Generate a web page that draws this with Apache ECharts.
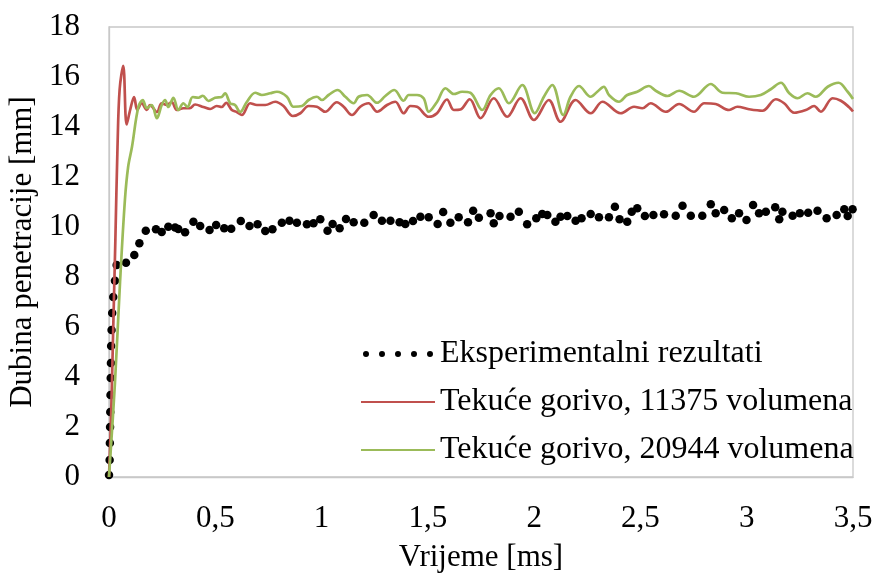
<!DOCTYPE html>
<html>
<head>
<meta charset="utf-8">
<script src="https://cdn.jsdelivr.net/npm/echarts@6/dist/echarts.min.js"></script>
<style>
html,body{margin:0;padding:0;background:#fff;}
#chart{width:875px;height:573px;}
</style>
</head>
<body>
<div id="chart"></div>
<script>
// ---- data ----
const seriesNames = ['Eksperimentalni rezultati', 'Tekuće gorivo, 11375 volumena', 'Tekuće gorivo, 20944 volumena'];
const xTickLabels = ['0', '0,5', '1', '1,5', '2', '2,5', '3', '3,5'];
const yTickLabels = ['0', '2', '4', '6', '8', '10', '12', '14', '16', '18'];

const expTime = [0,0.003,0.004,0.005,0.006,0.007,0.008,0.009,0.01,0.012,0.015,0.02,0.028,0.036,0.08,0.119,0.143,0.173,0.221,0.248,0.279,0.311,0.326,0.358,0.397,0.429,0.473,0.504,0.542,0.575,0.62,0.661,0.699,0.735,0.769,0.813,0.849,0.884,0.931,0.962,0.994,1.028,1.052,1.085,1.115,1.151,1.201,1.245,1.284,1.324,1.367,1.394,1.43,1.465,1.504,1.546,1.572,1.606,1.645,1.689,1.713,1.74,1.795,1.81,1.837,1.889,1.928,1.967,2.01,2.038,2.062,2.1,2.124,2.156,2.195,2.223,2.266,2.305,2.352,2.38,2.402,2.438,2.459,2.485,2.521,2.561,2.611,2.666,2.698,2.737,2.791,2.831,2.854,2.894,2.93,2.964,2.999,3.03,3.058,3.09,3.134,3.153,3.168,3.216,3.25,3.289,3.333,3.376,3.423,3.459,3.475,3.498];
const expDepth = [0.08,0.68,1.36,2.0,2.6,3.28,3.96,4.56,5.24,5.88,6.56,7.2,7.85,8.48,8.57,8.88,9.35,9.85,9.91,9.8,10.01,9.98,9.92,9.79,10.21,10.04,9.88,10.08,9.95,9.93,10.24,10.04,10.11,9.84,9.91,10.17,10.25,10.17,10.11,10.15,10.31,9.85,10.12,9.95,10.32,10.19,10.17,10.48,10.25,10.25,10.19,10.12,10.24,10.41,10.39,10.12,10.6,10.17,10.39,10.19,10.65,10.37,10.55,10.15,10.44,10.41,10.61,10.11,10.35,10.52,10.48,10.21,10.41,10.44,10.25,10.35,10.52,10.39,10.39,10.81,10.31,10.21,10.61,10.75,10.44,10.48,10.51,10.45,10.85,10.45,10.45,10.91,10.55,10.68,10.35,10.55,10.28,10.88,10.55,10.61,10.79,10.31,10.61,10.45,10.55,10.57,10.65,10.35,10.48,10.71,10.44,10.71];

const redTime = [0,0.01,0.02,0.03,0.04,0.05,0.067,0.083,0.1,0.118,0.133,0.154,0.178,0.193,0.225,0.248,0.272,0.295,0.319,0.35,0.38,0.405,0.444,0.476,0.507,0.53,0.551,0.578,0.601,0.625,0.664,0.696,0.735,0.782,0.821,0.865,0.9,0.939,0.978,1.017,1.072,1.104,1.143,1.182,1.221,1.261,1.308,1.347,1.386,1.418,1.449,1.504,1.543,1.59,1.622,1.653,1.697,1.748,1.81,1.873,1.936,1.999,2.069,2.124,2.195,2.266,2.321,2.407,2.47,2.509,2.548,2.619,2.682,2.752,2.8,2.854,2.917,2.956,3.011,3.074,3.137,3.176,3.223,3.278,3.317,3.349,3.404,3.443,3.482,3.5];
const redDepth = [0,2.5,6,9.5,13.2,15.5,16.45,14.1,14.7,15.2,14.68,14.95,14.68,14.88,14.6,14.95,14.88,15.0,14.68,14.75,14.75,14.9,14.8,14.72,14.84,14.8,14.97,14.68,14.6,14.48,14.95,14.88,14.88,15.01,14.84,14.44,14.55,14.84,14.81,14.61,14.99,14.81,14.48,14.81,14.95,14.61,14.88,15.01,14.55,14.84,14.81,14.41,14.55,15.1,14.68,14.7,15.11,14.35,15.15,14.41,15.15,14.28,15.08,14.21,15.08,14.55,15.01,14.55,14.81,14.75,14.95,14.61,14.92,14.61,14.95,14.92,14.68,14.81,14.71,14.65,15.11,14.95,14.57,14.68,14.84,14.61,15.15,15.05,14.79,14.62];

const greenTime = [0,0.028,0.052,0.075,0.09,0.108,0.138,0.159,0.178,0.201,0.225,0.248,0.264,0.279,0.303,0.326,0.35,0.369,0.394,0.421,0.441,0.468,0.499,0.53,0.546,0.57,0.593,0.617,0.648,0.688,0.719,0.758,0.79,0.837,0.868,0.908,0.939,0.978,1.002,1.033,1.075,1.112,1.151,1.174,1.214,1.261,1.3,1.342,1.386,1.41,1.449,1.48,1.504,1.543,1.583,1.622,1.661,1.7,1.756,1.795,1.834,1.881,1.944,2.003,2.046,2.085,2.137,2.171,2.211,2.266,2.297,2.328,2.352,2.399,2.438,2.485,2.54,2.572,2.627,2.682,2.752,2.831,2.886,2.949,3.011,3.066,3.113,3.161,3.2,3.239,3.286,3.325,3.381,3.432,3.475,3.5];
const greenDepth = [0,3.76,7.8,11.1,12.4,13.2,14.8,15.08,14.75,14.88,14.35,14.88,15.08,14.8,15.17,14.68,14.95,14.8,15.2,15.17,15.25,15.04,15.17,15.2,15.35,14.95,14.88,14.6,15.0,15.37,15.28,15.35,15.41,15.21,14.81,14.84,15.08,15.21,15.08,15.28,15.48,15.21,14.95,15.21,15.28,14.97,15.24,15.48,15.05,15.28,15.28,15.15,14.61,15.0,15.55,15.32,15.41,15.37,14.68,15.28,15.55,14.95,15.68,14.55,15.21,15.68,14.48,15.21,15.64,15.21,15.41,15.61,15.28,15.01,15.28,15.41,15.64,15.45,15.24,15.45,15.21,15.72,15.37,15.35,15.21,15.28,15.51,15.77,15.35,15.15,15.35,15.21,15.61,15.77,15.41,15.12];

// ---- chart ----
const FONT = 'Liberation Serif';
const FS = 31;
const pairs = (xs, ys) => xs.map((x, i) => [x, ys[i]]);
const dotsIcon = 'path://M0,3a3,3 0 1,0 6,0a3,3 0 1,0 -6,0M16,3a3,3 0 1,0 6,0a3,3 0 1,0 -6,0M32,3a3,3 0 1,0 6,0a3,3 0 1,0 -6,0M48,3a3,3 0 1,0 6,0a3,3 0 1,0 -6,0M64,3a3,3 0 1,0 6,0a3,3 0 1,0 -6,0';

const chart = echarts.init(document.getElementById('chart'), null, {renderer: 'canvas'});
chart.setOption({
  animation: false,
  backgroundColor: '#ffffff',
  grid: {left: 109, right: 22, top: 27, bottom: 96, containLabel: false, outerBoundsMode: 'none',
    show: true, borderColor: '#c8c8c8', borderWidth: 1.3, backgroundColor: 'transparent'},
  legend: {
    orient: 'vertical',
    left: 355,
    top: 333,
    itemWidth: 74,
    itemHeight: 6,
    itemGap: 16,
    textStyle: {fontFamily: FONT, fontSize: 32, color: '#000'},
    data: [
      {name: seriesNames[0], icon: dotsIcon},
      {name: seriesNames[1], itemStyle: {opacity: 0}},
      {name: seriesNames[2], itemStyle: {opacity: 0}}
    ]
  },
  xAxis: {
    type: 'value', min: 0, max: 3.5, interval: 0.5,
    name: 'Vrijeme [ms]', nameLocation: 'middle', nameGap: 65,
    nameTextStyle: {fontFamily: FONT, fontSize: FS, color: '#000'},
    axisLine: {show: true, lineStyle: {color: '#c8c8c8', width: 1.3}},
    axisTick: {show: false},
    splitLine: {show: false},
    axisLabel: {fontFamily: FONT, fontSize: FS, color: '#000', margin: 26,
      formatter: v => xTickLabels[Math.round(v / 0.5)]}
  },
  yAxis: {
    type: 'value', min: 0, max: 18, interval: 2,
    name: 'Dubina penetracije [mm]', nameLocation: 'middle', nameGap: 58,
    nameTextStyle: {fontFamily: FONT, fontSize: FS, color: '#000'},
    axisLine: {show: true, lineStyle: {color: '#c8c8c8', width: 1.3}},
    axisTick: {show: false},
    splitLine: {show: false},
    axisLabel: {fontFamily: FONT, fontSize: FS, color: '#000', margin: 29,
      formatter: v => yTickLabels[Math.round(v / 2)]}
  },
  series: [
    {
      name: seriesNames[0], type: 'scatter',
      data: pairs(expTime, expDepth),
      symbol: 'circle', symbolSize: 8.5,
      itemStyle: {color: '#000000', opacity: 1}
    },
    {
      name: seriesNames[1], type: 'line',
      data: pairs(redTime, redDepth),
      showSymbol: false, symbol: 'none', smooth: 0.35,
      lineStyle: {color: '#C0504D', width: 2.7},
      itemStyle: {color: '#C0504D'}
    },
    {
      name: seriesNames[2], type: 'line',
      data: pairs(greenTime, greenDepth),
      showSymbol: false, symbol: 'none', smooth: 0.35,
      lineStyle: {color: '#9BBB59', width: 2.7},
      itemStyle: {color: '#9BBB59'}
    }
  ]
});
</script>
</body>
</html>
